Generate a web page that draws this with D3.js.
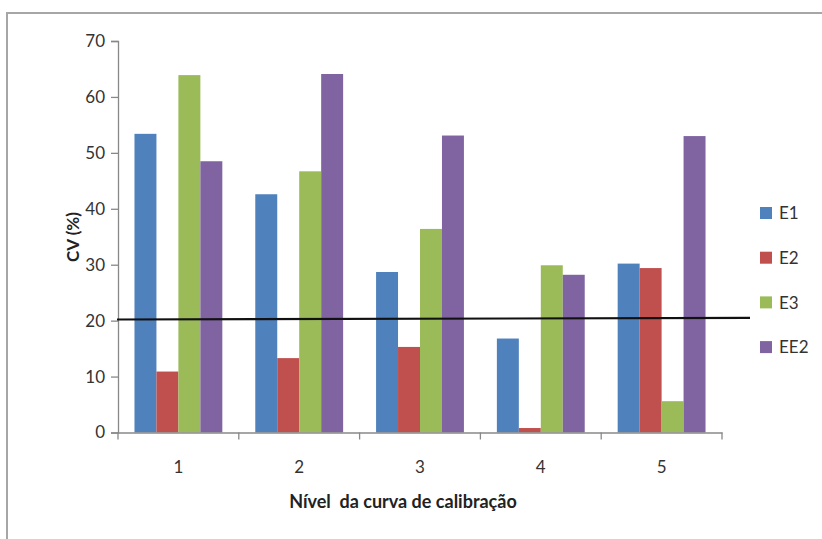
<!DOCTYPE html>
<html><head><meta charset="utf-8">
<script src="https://cdn.jsdelivr.net/npm/d3@7"></script>
<style>
html,body{margin:0;padding:0;background:#fff;}
svg{display:block;}
text{font-family:Lato,"Open Sans",sans-serif;}
</style></head>
<body><svg id="chart" width="822" height="539"></svg>
<script>
const categories = ["1","2","3","4","5"];
const seriesNames = ["E1","E2","E3","EE2"];
const E1  = [53.4, 42.6, 28.7, 16.8, 30.2];
const E2  = [10.9, 13.3, 15.3, 0.8, 29.4];
const E3  = [63.9, 46.7, 36.4, 29.9, 5.6];
const EE2 = [48.5, 64.1, 53.1, 28.2, 53.0];
const yTicks = [0,10,20,30,40,50,60,70];
const refLine = [20.2, 20.5];
const colors = ["#4F81BD","#C0504D","#9BBB59","#8064A2"];
const seriesValues = [E1,E2,E3,EE2];

const FONT = 'Lato,"Open Sans",sans-serif';
const svg = d3.select("#chart");
// outer frame
svg.append("path").attr("d","M7,540 V13 H823").attr("fill","none").attr("stroke","#a6a6a6").attr("stroke-width",2);

const x0 = 118, x1 = 722, yBottom = 432.5, yTop = 41;
const x = d3.scaleBand().domain(categories).range([x0,x1]).paddingInner(0).paddingOuter(0);
const y = d3.scaleLinear().domain([0,70]).range([yBottom,yTop]);
const bw = x.bandwidth()/5.5;
const xs = d3.scaleBand().domain(seriesNames).range([bw*0.75, bw*4.75]).padding(0);

// bars
seriesNames.forEach((s,si)=>{
  svg.append("g").selectAll("rect").data(categories).join("rect")
    .attr("x", c=>x(c)+xs(s))
    .attr("width", xs.bandwidth())
    .attr("y", (c,i)=>y(seriesValues[si][i]))
    .attr("height", (c,i)=>yBottom-y(seriesValues[si][i]))
    .attr("fill", colors[si]);
});

// y axis
const axisColor = "#888";
const yAxis = svg.append("g").attr("transform",`translate(${x0},0)`)
  .call(d3.axisLeft(y).tickValues(yTicks).tickSize(7).tickPadding(6));
yAxis.select(".domain").attr("stroke",axisColor).attr("stroke-width",1.3);
yAxis.selectAll(".tick line").attr("stroke",axisColor).attr("stroke-width",1.3);
yAxis.selectAll(".tick text").attr("font-size",17).attr("fill","#333").attr("font-family",FONT);

// x axis
const xAxis = svg.append("g").attr("transform",`translate(0,${yBottom})`)
  .call(d3.axisBottom(x).tickSize(0).tickPadding(28));
xAxis.select(".domain").attr("stroke",axisColor).attr("stroke-width",1.3);
xAxis.selectAll(".tick text").attr("font-size",17).attr("fill","#333").attr("font-family",FONT);
xAxis.selectAll(".sep").data(d3.range(categories.length+1)).join("line")
  .attr("class","sep")
  .attr("x1",i=>x0+i*x.step()).attr("x2",i=>x0+i*x.step())
  .attr("y1",0).attr("y2",7).attr("stroke",axisColor).attr("stroke-width",1.3);

// reference line
svg.append("line").attr("x1",x0-1).attr("x2",750)
  .attr("y1",y(refLine[0])).attr("y2",y(refLine[1]))
  .attr("stroke","#111").attr("stroke-width",2.2);

// axis titles
svg.append("text").attr("transform",`translate(79,237) rotate(-90)`)
  .attr("text-anchor","middle").attr("font-size",17).attr("font-weight","bold").attr("fill","#222")
  .text("CV (%)");
svg.append("text").attr("x",403).attr("y",508)
  .attr("text-anchor","middle").attr("font-size",18).attr("font-weight","bold").attr("fill","#222")
  .style("white-space","pre")
  .text("Nível  da curva de calibração");

// legend
const lg = svg.append("g");
seriesNames.forEach((s,i)=>{
  const cy = 213 + i*44.7;
  lg.append("rect").attr("x",760).attr("y",cy-6).attr("width",12).attr("height",12).attr("fill",colors[i]);
  lg.append("text").attr("x",779).attr("y",cy).attr("dy","0.36em").attr("font-size",17).attr("fill","#333").text(s);
});
</script></body></html>
